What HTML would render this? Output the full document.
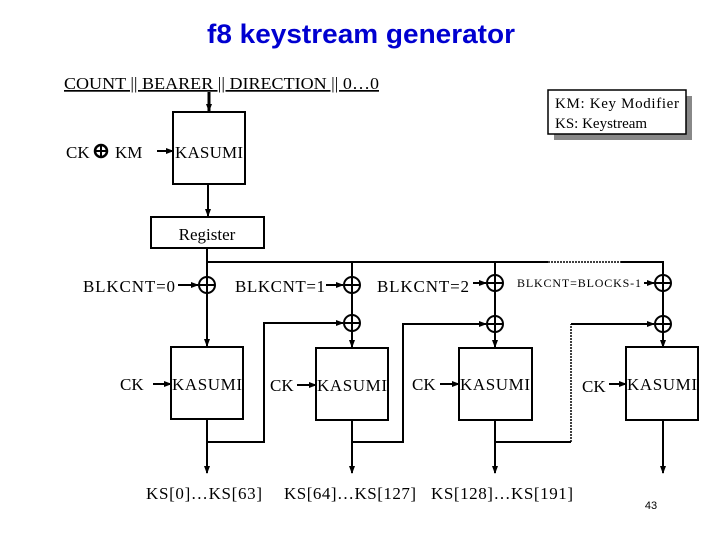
<!DOCTYPE html>
<html><head><style>body{margin:0;background:#fff}svg{display:block}</style></head><body>
<svg width="720" height="540" viewBox="0 0 720 540" xmlns="http://www.w3.org/2000/svg" font-family="Liberation Serif, serif" font-size="17">
<defs><marker id="a" markerWidth="8" markerHeight="8" refX="7" refY="4" orient="auto" markerUnits="userSpaceOnUse"><path d="M0,1 L8,4 L0,7 Z" fill="#000"/></marker></defs>
<text x="361" y="43" text-anchor="middle" font-family="Liberation Sans, sans-serif" font-weight="bold" font-size="27" fill="#0000d0" textLength="308" lengthAdjust="spacingAndGlyphs">f8 keystream generator</text>
<text x="64" y="89" font-size="17" text-decoration="underline" textLength="315" lengthAdjust="spacingAndGlyphs">COUNT || BEARER || DIRECTION || 0…0</text>
<rect x="554" y="96" width="138" height="44" fill="#888"/>
<rect x="548" y="90" width="138" height="44" fill="#fff" stroke="#000" stroke-width="1.5"/>
<text x="555" y="108" font-size="15" textLength="124">KM: Key Modifier</text>
<text x="555" y="128" font-size="15">KS: Keystream</text>
<g stroke="#000" stroke-width="2" fill="none">
<line x1="209" y1="92" x2="209" y2="111" stroke-width="3" marker-end="url(#a)"/>
<rect x="173" y="112" width="72" height="72"/>
<line x1="157" y1="151" x2="173" y2="151" marker-end="url(#a)"/>
<line x1="208" y1="184" x2="208" y2="216" marker-end="url(#a)"/>
<rect x="151" y="217" width="113" height="31"/>
<line x1="207" y1="248" x2="207" y2="262"/>
<polyline points="207,262 548,262"/>
<line x1="548" y1="262" x2="621" y2="262" stroke-dasharray="2,1" stroke-width="1.5"/>
<polyline points="621,262 663,262 663,276"/>
<line x1="207" y1="262" x2="207" y2="346" marker-end="url(#a)"/>
<line x1="352" y1="262" x2="352" y2="347" marker-end="url(#a)"/>
<line x1="495" y1="262" x2="495" y2="347" marker-end="url(#a)"/>
<line x1="663" y1="262" x2="663" y2="347" marker-end="url(#a)"/>
<rect x="171" y="347" width="72" height="72"/>
<rect x="316" y="348" width="72" height="72"/>
<rect x="459" y="348" width="73" height="72"/>
<rect x="626" y="347" width="72" height="73"/>
<line x1="207" y1="419" x2="207" y2="473" marker-end="url(#a)"/>
<line x1="352" y1="420" x2="352" y2="473" marker-end="url(#a)"/>
<line x1="495" y1="420" x2="495" y2="473" marker-end="url(#a)"/>
<line x1="663" y1="420" x2="663" y2="473" marker-end="url(#a)"/>
<polyline points="207,442 264,442 264,323 343,323" marker-end="url(#a)"/>
<polyline points="352,442 403,442 403,324 486,324" marker-end="url(#a)"/>
<polyline points="495,442 571,442"/>
<line x1="571" y1="442" x2="571" y2="324" stroke-dasharray="2,1" stroke-width="1.5"/>
<polyline points="571,324 654,324" marker-end="url(#a)"/>
<line x1="178" y1="285" x2="198" y2="285" marker-end="url(#a)"/>
<line x1="326" y1="285" x2="343" y2="285" marker-end="url(#a)"/>
<line x1="473" y1="283" x2="486" y2="283" marker-end="url(#a)"/>
<line x1="644" y1="283" x2="654" y2="283" marker-end="url(#a)"/>
<line x1="153" y1="384" x2="171" y2="384" marker-end="url(#a)"/>
<line x1="297" y1="385" x2="316" y2="385" marker-end="url(#a)"/>
<line x1="440" y1="384" x2="459" y2="384" marker-end="url(#a)"/>
<line x1="609" y1="384" x2="626" y2="384" marker-end="url(#a)"/>
</g>
<g stroke="#000" stroke-width="2" fill="#fff">
<circle cx="207" cy="285" r="8"/><circle cx="352" cy="285" r="8"/><circle cx="495" cy="283" r="8"/><circle cx="663" cy="283" r="8"/>
<circle cx="352" cy="323" r="8"/><circle cx="495" cy="324" r="8"/><circle cx="663" cy="324" r="8"/>
</g>
<g stroke="#000" stroke-width="2">
<path d="M199,285H215M207,277V293M344,285H360M352,277V293M487,283H503M495,275V291M655,283H671M663,275V291M344,323H360M352,315V331M487,324H503M495,316V332M655,324H671M663,316V332"/>
</g>
<text x="66" y="158">CK</text>
<circle cx="101" cy="151" r="6" fill="none" stroke="#000" stroke-width="2.5"/><path d="M95,151H107M101,145V157" stroke="#000" stroke-width="2"/>
<text x="115" y="158">KM</text>
<text x="175" y="158" textLength="68">KASUMI</text>
<text x="207" y="240" text-anchor="middle">Register</text>
<text x="83" y="292" textLength="92">BLKCNT=0</text>
<text x="235" y="292" textLength="90">BLKCNT=1</text>
<text x="377" y="292" textLength="92">BLKCNT=2</text>
<text x="517" y="287" font-size="12" textLength="124">BLKCNT=BLOCKS-1</text>
<text x="120" y="390">CK</text><text x="172" y="390" textLength="70">KASUMI</text>
<text x="270" y="391">CK</text><text x="317" y="391" textLength="70">KASUMI</text>
<text x="412" y="390">CK</text><text x="460" y="390" textLength="70">KASUMI</text>
<text x="582" y="392">CK</text><text x="627" y="390" textLength="70">KASUMI</text>
<text x="146" y="499" textLength="116">KS[0]…KS[63]</text>
<text x="284" y="499" textLength="132">KS[64]…KS[127]</text>
<text x="431" y="499" textLength="142">KS[128]…KS[191]</text>
<text x="651" y="509" text-anchor="middle" font-family="Liberation Sans, sans-serif" font-size="11">43</text>
</svg>
</body></html>
